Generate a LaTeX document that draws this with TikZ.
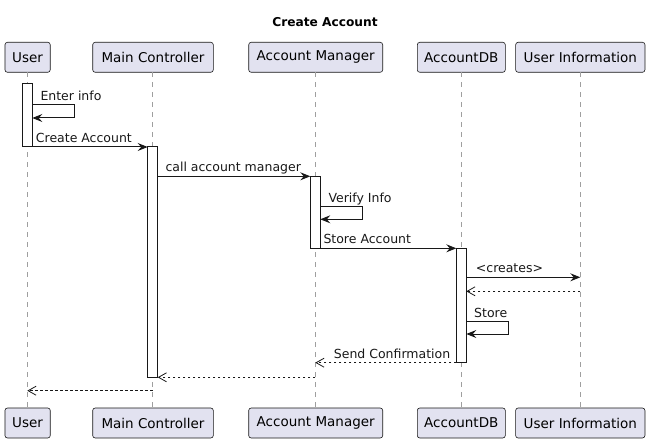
\documentclass[tikz,border=0pt]{standalone}
\usepackage{fontspec}
\setmainfont{DejaVu Sans}
\usetikzlibrary{arrows.meta}
\definecolor{partfill}{HTML}{E2E2F0}
\definecolor{ink}{HTML}{181818}
\begin{document}
\begin{tikzpicture}[x=1pt,y=-1pt,
  part/.style={draw=ink, fill=partfill, rounded corners=2.5pt, line width=0.6pt,
    font=\fontsize{13.5}{16}\selectfont, inner sep=0pt, minimum height=30pt, text=black},
  lifeline/.style={draw=gray!75, line width=0.6pt, dash pattern=on 5pt off 5pt},
  actbox/.style={draw=ink, fill=white, line width=1pt},
  msg/.style={draw=ink, line width=1pt, -{Stealth[length=10pt,width=8pt,inset=3.5pt]}},
  ret/.style={draw=ink, line width=0.8pt, dash pattern=on 2.5pt off 2.5pt, -{Straight Barb[length=8pt,width=9pt,line width=0.8pt]}},
  lbl/.style={anchor=base west, inner sep=0pt, font=\fontsize{12.5}{15}\selectfont, text=ink},
  ttl/.style={font=\fontsize{12.2}{14}\selectfont\bfseries, text=black}]
\useasboundingbox (0,0) rectangle (650,443);

\node[ttl] (title) at (325,22) {Create Account};

% participants
\node[part, minimum width=45.3pt] (u1) at (27.6,57.3) {User};
\node[part, minimum width=120.6pt] (mc1) at (153,57.3) {Main Controller};
\node[part, minimum width=134pt] (am1) at (315.7,57.3) {Account Manager};
\node[part, minimum width=88pt] (db1) at (461.3,57.3) {AccountDB};
\node[part, minimum width=129.3pt] (ui1) at (580.3,57.3) {User Information};

\node[part, minimum width=45.3pt] (u2) at (27.6,423) {User};
\node[part, minimum width=120.6pt] (mc2) at (153,423) {Main Controller};
\node[part, minimum width=134pt] (am2) at (315.7,423) {Account Manager};
\node[part, minimum width=88pt] (db2) at (461.3,423) {AccountDB};
\node[part, minimum width=129.3pt] (ui2) at (580.3,423) {User Information};

% lifelines
\draw[lifeline] (27.3,72.3) -- (27.3,408.3);
\draw[lifeline] (152.7,72.3) -- (152.7,408.3);
\draw[lifeline] (315.3,72.3) -- (315.3,408.3);
\draw[lifeline] (461.3,72.3) -- (461.3,408.3);
\draw[lifeline] (580.3,72.3) -- (580.3,408.3);

% activations
\draw[actbox] (22.3,83.5) rectangle (32.3,147);
\draw[actbox] (147.7,147) rectangle (157.7,377.3);
\draw[actbox] (310.3,176.3) rectangle (320.3,248.3);
\draw[actbox] (456.3,248.3) rectangle (466.3,362.7);

% coordinates
\coordinate (ei1) at (32.3,105);
\coordinate (ei2) at (74.7,105);
\coordinate (ei3) at (74.7,118);
\coordinate (ei4) at (32.3,118);
\coordinate (ca1) at (32.3,147);
\coordinate (ca2) at (147.7,147);
\coordinate (cm1) at (157.7,176.3);
\coordinate (cm2) at (310.3,176.3);
\coordinate (vi1) at (320.3,206.7);
\coordinate (vi2) at (362.3,206.7);
\coordinate (vi3) at (362.3,219.3);
\coordinate (vi4) at (320.3,219.3);
\coordinate (sa1) at (320.3,248.3);
\coordinate (sa2) at (456.3,248.3);
\coordinate (cr1) at (466.3,277.3);
\coordinate (cr2) at (580.3,277.3);
\coordinate (cb1) at (580.3,291.3);
\coordinate (cb2) at (466.3,291.3);
\coordinate (st1) at (466.3,321.7);
\coordinate (st2) at (508.3,321.7);
\coordinate (st3) at (508.3,334);
\coordinate (st4) at (466.3,334);
\coordinate (sc1) at (456.3,362.7);
\coordinate (sc2) at (315.3,362.7);
\coordinate (r1a) at (315.3,377.3);
\coordinate (r1b) at (157.7,377.3);
\coordinate (r2a) at (152.7,390.7);
\coordinate (r2b) at (27.3,390.7);

% messages
\draw[msg] (ei1) -- (ei2) -- (ei3) -- (ei4);
\node[lbl] (lei) at (40.3,100.5) {Enter info};
\draw[msg] (ca1) -- (ca2);
\node[lbl] (lca) at (35.7,142.5) {Create Account};
\draw[msg] (cm1) -- (cm2);
\node[lbl] (lcm) at (165.3,171.8) {call account manager};
\draw[msg] (vi1) -- (vi2) -- (vi3) -- (vi4);
\node[lbl] (lvi) at (328.3,202.2) {Verify Info};
\draw[msg] (sa1) -- (sa2);
\node[lbl] (lsa) at (323.3,243.8) {Store Account};
\draw[msg] (cr1) -- (cr2);
\node[lbl] (lcr) at (475.7,272.8) {<creates>};
\draw[ret] (cb1) -- (cb2);
\draw[msg] (st1) -- (st2) -- (st3) -- (st4);
\node[lbl] (lst) at (474,317.2) {Store};
\draw[ret] (sc1) -- (sc2);
\node[lbl] (lsc) at (333.7,358.2) {Send Confirmation};
\draw[ret] (r1a) -- (r1b);
\draw[ret] (r2a) -- (r2b);
\end{tikzpicture}
\end{document}
